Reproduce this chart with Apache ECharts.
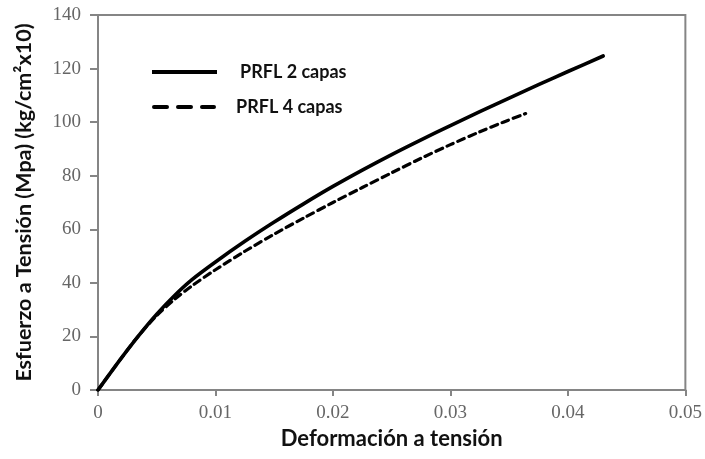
<!DOCTYPE html>
<html>
<head>
<meta charset="utf-8">
<script src="https://cdn.jsdelivr.net/npm/echarts@6/dist/echarts.min.js"></script>
<style>
  html, body { margin: 0; padding: 0; background: #fff; }
  #chart { width: 705px; height: 459px; }
</style>
</head>
<body>
<div id="chart"></div>
<script>
// Tensile stress-strain curves for laminated fibre-reinforced specimens
const seriesNames = ['PRFL 2 capas', 'PRFL 4 capas'];

const strain2 = [0, 0.002, 0.0035, 0.005, 0.0065, 0.008, 0.01, 0.0125, 0.015, 0.0175, 0.02, 0.0225, 0.025, 0.0275, 0.03, 0.0325, 0.035, 0.0375, 0.04, 0.043];
const stress2 = [0, 12, 20.5, 28.3, 35.2, 41.2, 47.8, 55.5, 62.7, 69.5, 76, 82.1, 87.9, 93.4, 98.7, 103.9, 109, 114, 118.9, 124.7];

const strain4 = [0, 0.002, 0.0035, 0.005, 0.0065, 0.008, 0.01, 0.0125, 0.015, 0.0175, 0.02, 0.0225, 0.025, 0.0275, 0.03, 0.0325, 0.0345, 0.0364];
const stress4 = [0, 12, 20.5, 27.8, 33.8, 38.9, 44.9, 51.8, 58.2, 64.2, 70, 75.6, 81.1, 86.5, 91.6, 96.4, 100, 103.2];

const xTicks = [0, 0.01, 0.02, 0.03, 0.04, 0.05];
const yTicks = [0, 20, 40, 60, 80, 100, 120, 140];

const pairs = (xs, ys) => xs.map((x, i) => [x, ys[i]]);

const axisGrey = '#858585';
const labelGrey = '#666666';
const legendFont = 'bold 18px Lato';

// Hand-drawn key in the upper-left corner of the plot
function keyEntry(y, x0, x1, dash, textX, label) {
  return [
    {
      type: 'line', silent: true,
      shape: { x1: x0, y1: y, x2: x1, y2: y },
      style: { stroke: '#000', lineWidth: 4, lineDash: dash, lineCap: dash ? 'round' : 'butt' }
    },
    {
      type: 'text', silent: true, x: textX, y: y,
      style: { text: label, font: legendFont, fill: '#111', verticalAlign: 'middle', align: 'left' }
    }
  ];
}

const chart = echarts.init(document.getElementById('chart'), null, { renderer: 'canvas' });
chart.setOption({
  animation: false,
  backgroundColor: '#ffffff',
  grid: {
    left: 98, right: 19, top: 15, bottom: 69,
    show: true, borderColor: axisGrey, borderWidth: 2, backgroundColor: 'transparent'
  },
  graphic: [
    ...keyEntry(72, 152, 217, null, 240, seriesNames[0]),
    ...keyEntry(107, 154, 214, [13, 11], 236, seriesNames[1])
  ],
  xAxis: {
    type: 'value',
    min: xTicks[0], max: xTicks[xTicks.length - 1], interval: 0.01,
    name: 'Deformación a tensión',
    nameLocation: 'middle', nameGap: 36,
    nameTextStyle: { fontFamily: 'Lato', fontWeight: 'bold', fontSize: 22, color: '#111' },
    axisLine: { lineStyle: { color: axisGrey, width: 2 } },
    axisTick: { show: true, length: 6, lineStyle: { color: axisGrey, width: 2 } },
    axisLabel: {
      margin: 14, fontFamily: 'Liberation Serif', fontSize: 19, color: labelGrey,
      formatter: v => String(Math.round(v * 100) / 100)
    },
    splitLine: { show: false }
  },
  yAxis: {
    type: 'value',
    min: yTicks[0], max: yTicks[yTicks.length - 1], interval: 20,
    name: 'Esfuerzo a Tensión (Mpa) (kg/cm²x10)',
    nameLocation: 'middle', nameGap: 63,
    nameTextStyle: { fontFamily: 'Lato', fontWeight: 'bold', fontSize: 21.5, color: '#111' },
    axisLine: { show: true, lineStyle: { color: axisGrey, width: 2 } },
    axisTick: { show: true, length: 8, lineStyle: { color: axisGrey, width: 2 } },
    axisLabel: { margin: 17, fontFamily: 'Liberation Serif', fontSize: 19, color: labelGrey },
    splitLine: { show: false }
  },
  series: [
    {
      name: seriesNames[0], type: 'line', data: pairs(strain2, stress2),
      symbol: 'none', smooth: 0.3, z: 3,
      lineStyle: { color: '#000', width: 3.6, cap: 'round' },
      itemStyle: { color: '#000' }
    },
    {
      name: seriesNames[1], type: 'line', data: pairs(strain4, stress4),
      symbol: 'none', smooth: 0.3, z: 2,
      lineStyle: { color: '#000', width: 3.2, type: [7, 5], cap: 'round' },
      itemStyle: { color: '#000' }
    }
  ]
});
</script>
</body>
</html>
